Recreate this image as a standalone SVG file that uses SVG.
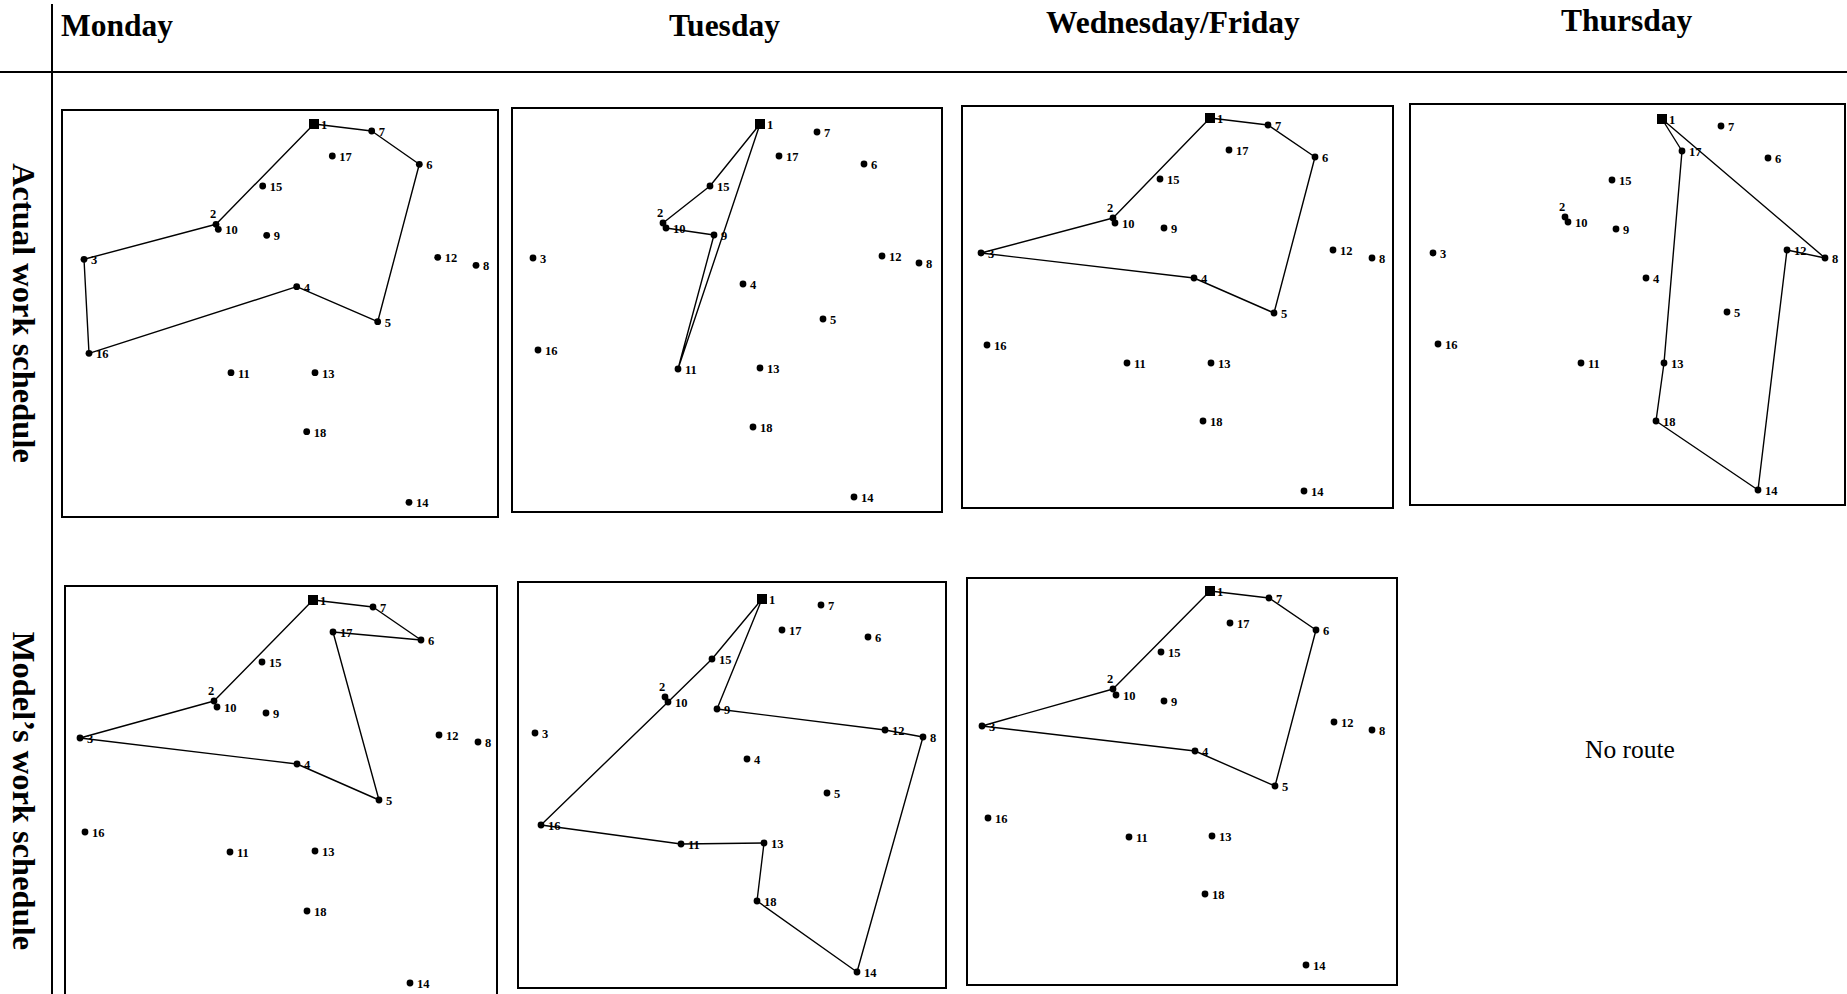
<svg xmlns="http://www.w3.org/2000/svg" width="1847" height="994" viewBox="0 0 1847 994">
<style>
.bg{fill:#fff}
.rule{stroke:#000;stroke-width:2;fill:none}
.box{fill:none;stroke:#000;stroke-width:2}
.route{fill:none;stroke:#000;stroke-width:1.4;stroke-linejoin:round}
.dot{fill:#000}
.lbl{font-family:"Liberation Serif","Times New Roman",serif;font-weight:bold;font-size:12.5px;fill:#000}
.l2{text-anchor:middle}
.hdr{font-family:"Liberation Serif","Times New Roman",serif;font-weight:bold;font-size:31.5px;fill:#000}
.side{font-family:"Liberation Serif","Times New Roman",serif;font-weight:bold;font-size:32.5px;fill:#000;text-anchor:middle}
.note{font-family:"Liberation Serif","Times New Roman",serif;font-size:25.5px;fill:#000}
</style>
<rect class="bg" x="0" y="0" width="1847" height="994"/>
<g id="frame">
<line class="rule" x1="0" y1="72" x2="1847" y2="72"/>
<line class="rule" x1="52" y1="4" x2="52" y2="994"/>
</g>
<g id="headers">
<text class="hdr" x="61" y="36">Monday</text>
<text class="hdr" x="669" y="36">Tuesday</text>
<text class="hdr" x="1046" y="33">Wednesday/Friday</text>
<text class="hdr" x="1561" y="31">Thursday</text>
<text class="side" transform="translate(13,313) rotate(90)">Actual work schedule</text>
<text class="side" transform="translate(13,791) rotate(90)">Model’s work schedule</text>
</g>

<!-- Panel: Monday actual -->
<g id="mon-actual">
<rect class="box" x="62" y="110" width="436" height="407"/>
<g id="mon-actual-connectors"><polyline class="route" points="314,124 371.7,131 419.3,164.3 377.7,321.7 296.7,286.7 89,353.3 84,259.3 216,224.3 314,124"/></g>
<g id="ma-n1"><rect class="dot" x="309" y="119" width="10" height="10"/><text class="lbl" x="321" y="129">1</text></g>
<g id="ma-n7"><circle class="dot" cx="371.7" cy="131" r="3.4"/><text class="lbl" x="378.7" y="136">7</text></g>
<g id="ma-n17"><circle class="dot" cx="332.3" cy="156" r="3.4"/><text class="lbl" x="339.3" y="161">17</text></g>
<g id="ma-n6"><circle class="dot" cx="419.3" cy="164.3" r="3.4"/><text class="lbl" x="426.3" y="169.3">6</text></g>
<g id="ma-n15"><circle class="dot" cx="262.7" cy="186" r="3.4"/><text class="lbl" x="269.7" y="191">15</text></g>
<g id="ma-n2"><circle class="dot" cx="216" cy="224.3" r="3.4"/><text class="lbl l2" x="213" y="218.3">2</text></g>
<g id="ma-n10"><circle class="dot" cx="218.3" cy="229.3" r="3.4"/><text class="lbl" x="225.3" y="234.3">10</text></g>
<g id="ma-n9"><circle class="dot" cx="266.7" cy="235.3" r="3.4"/><text class="lbl" x="273.7" y="240.3">9</text></g>
<g id="ma-n3"><circle class="dot" cx="84" cy="259.3" r="3.4"/><text class="lbl" x="91" y="264.3">3</text></g>
<g id="ma-n12"><circle class="dot" cx="437.7" cy="257.3" r="3.4"/><text class="lbl" x="444.7" y="262.3">12</text></g>
<g id="ma-n8"><circle class="dot" cx="476" cy="265.3" r="3.4"/><text class="lbl" x="483" y="270.3">8</text></g>
<g id="ma-n4"><circle class="dot" cx="296.7" cy="286.7" r="3.4"/><text class="lbl" x="303.7" y="291.7">4</text></g>
<g id="ma-n5"><circle class="dot" cx="377.7" cy="321.7" r="3.4"/><text class="lbl" x="384.7" y="326.7">5</text></g>
<g id="ma-n16"><circle class="dot" cx="89" cy="353.3" r="3.4"/><text class="lbl" x="96" y="358.3">16</text></g>
<g id="ma-n11"><circle class="dot" cx="231" cy="372.7" r="3.4"/><text class="lbl" x="238" y="377.7">11</text></g>
<g id="ma-n13"><circle class="dot" cx="315" cy="372.7" r="3.4"/><text class="lbl" x="322" y="377.7">13</text></g>
<g id="ma-n18"><circle class="dot" cx="306.7" cy="431.7" r="3.4"/><text class="lbl" x="313.7" y="436.7">18</text></g>
<g id="ma-n14"><circle class="dot" cx="409" cy="502.3" r="3.4"/><text class="lbl" x="416" y="507.3">14</text></g>
</g>

<!-- Panel: Tuesday actual -->
<g id="tue-actual">
<rect class="box" x="512" y="108" width="430" height="404"/>
<g id="tue-actual-connectors"><polyline class="route" points="760,124 710,186 663,223 666,228 714,235 678,369 760,124"/></g>
<g id="ta-n1"><rect class="dot" x="755" y="119" width="10" height="10"/><text class="lbl" x="767" y="129">1</text></g>
<g id="ta-n7"><circle class="dot" cx="817" cy="132" r="3.4"/><text class="lbl" x="824" y="137">7</text></g>
<g id="ta-n17"><circle class="dot" cx="779" cy="156" r="3.4"/><text class="lbl" x="786" y="161">17</text></g>
<g id="ta-n6"><circle class="dot" cx="864" cy="164" r="3.4"/><text class="lbl" x="871" y="169">6</text></g>
<g id="ta-n15"><circle class="dot" cx="710" cy="186" r="3.4"/><text class="lbl" x="717" y="191">15</text></g>
<g id="ta-n2"><circle class="dot" cx="663" cy="223" r="3.4"/><text class="lbl l2" x="660" y="217">2</text></g>
<g id="ta-n10"><circle class="dot" cx="666" cy="228" r="3.4"/><text class="lbl" x="673" y="233">10</text></g>
<g id="ta-n9"><circle class="dot" cx="714" cy="235" r="3.4"/><text class="lbl" x="721" y="240">9</text></g>
<g id="ta-n3"><circle class="dot" cx="533" cy="258" r="3.4"/><text class="lbl" x="540" y="263">3</text></g>
<g id="ta-n12"><circle class="dot" cx="882" cy="256" r="3.4"/><text class="lbl" x="889" y="261">12</text></g>
<g id="ta-n8"><circle class="dot" cx="919" cy="263" r="3.4"/><text class="lbl" x="926" y="268">8</text></g>
<g id="ta-n4"><circle class="dot" cx="743" cy="284" r="3.4"/><text class="lbl" x="750" y="289">4</text></g>
<g id="ta-n5"><circle class="dot" cx="823" cy="319" r="3.4"/><text class="lbl" x="830" y="324">5</text></g>
<g id="ta-n16"><circle class="dot" cx="538" cy="350" r="3.4"/><text class="lbl" x="545" y="355">16</text></g>
<g id="ta-n11"><circle class="dot" cx="678" cy="369" r="3.4"/><text class="lbl" x="685" y="374">11</text></g>
<g id="ta-n13"><circle class="dot" cx="760" cy="368" r="3.4"/><text class="lbl" x="767" y="373">13</text></g>
<g id="ta-n18"><circle class="dot" cx="753" cy="427" r="3.4"/><text class="lbl" x="760" y="432">18</text></g>
<g id="ta-n14"><circle class="dot" cx="854" cy="497" r="3.4"/><text class="lbl" x="861" y="502">14</text></g>
</g>

<!-- Panel: Wednesday/Friday actual -->
<g id="wed-actual">
<rect class="box" x="962" y="106" width="431" height="402"/>
<g id="wed-actual-connectors"><polyline class="route" points="1210,118 1268,125 1315,157 1274,313 1194,278 981,253 1113,218 1210,118"/></g>
<g id="wa-n1"><rect class="dot" x="1205" y="113" width="10" height="10"/><text class="lbl" x="1217" y="123">1</text></g>
<g id="wa-n7"><circle class="dot" cx="1268" cy="125" r="3.4"/><text class="lbl" x="1275" y="130">7</text></g>
<g id="wa-n17"><circle class="dot" cx="1229" cy="150" r="3.4"/><text class="lbl" x="1236" y="155">17</text></g>
<g id="wa-n6"><circle class="dot" cx="1315" cy="157" r="3.4"/><text class="lbl" x="1322" y="162">6</text></g>
<g id="wa-n15"><circle class="dot" cx="1160" cy="179" r="3.4"/><text class="lbl" x="1167" y="184">15</text></g>
<g id="wa-n2"><circle class="dot" cx="1113" cy="218" r="3.4"/><text class="lbl l2" x="1110" y="212">2</text></g>
<g id="wa-n10"><circle class="dot" cx="1115" cy="223" r="3.4"/><text class="lbl" x="1122" y="228">10</text></g>
<g id="wa-n9"><circle class="dot" cx="1164" cy="228" r="3.4"/><text class="lbl" x="1171" y="233">9</text></g>
<g id="wa-n3"><circle class="dot" cx="981" cy="253" r="3.4"/><text class="lbl" x="988" y="258">3</text></g>
<g id="wa-n12"><circle class="dot" cx="1333" cy="250" r="3.4"/><text class="lbl" x="1340" y="255">12</text></g>
<g id="wa-n8"><circle class="dot" cx="1372" cy="258" r="3.4"/><text class="lbl" x="1379" y="263">8</text></g>
<g id="wa-n4"><circle class="dot" cx="1194" cy="278" r="3.4"/><text class="lbl" x="1201" y="283">4</text></g>
<g id="wa-n5"><circle class="dot" cx="1274" cy="313" r="3.4"/><text class="lbl" x="1281" y="318">5</text></g>
<g id="wa-n16"><circle class="dot" cx="987" cy="345" r="3.4"/><text class="lbl" x="994" y="350">16</text></g>
<g id="wa-n11"><circle class="dot" cx="1127" cy="363" r="3.4"/><text class="lbl" x="1134" y="368">11</text></g>
<g id="wa-n13"><circle class="dot" cx="1211" cy="363" r="3.4"/><text class="lbl" x="1218" y="368">13</text></g>
<g id="wa-n18"><circle class="dot" cx="1203" cy="421" r="3.4"/><text class="lbl" x="1210" y="426">18</text></g>
<g id="wa-n14"><circle class="dot" cx="1304" cy="491" r="3.4"/><text class="lbl" x="1311" y="496">14</text></g>
</g>

<!-- Panel: Thursday actual -->
<g id="thu-actual">
<rect class="box" x="1410" y="104" width="435" height="401"/>
<g id="thu-actual-connectors"><polyline class="route" points="1662,119 1682,151 1664,363 1656,421 1758,490 1787,250 1825,258 1662,119"/></g>
<g id="ha-n1"><rect class="dot" x="1657" y="114" width="10" height="10"/><text class="lbl" x="1669" y="124">1</text></g>
<g id="ha-n7"><circle class="dot" cx="1721" cy="126" r="3.4"/><text class="lbl" x="1728" y="131">7</text></g>
<g id="ha-n17"><circle class="dot" cx="1682" cy="151" r="3.4"/><text class="lbl" x="1689" y="156">17</text></g>
<g id="ha-n6"><circle class="dot" cx="1768" cy="158" r="3.4"/><text class="lbl" x="1775" y="163">6</text></g>
<g id="ha-n15"><circle class="dot" cx="1612" cy="180" r="3.4"/><text class="lbl" x="1619" y="185">15</text></g>
<g id="ha-n2"><circle class="dot" cx="1565" cy="217" r="3.4"/><text class="lbl l2" x="1562" y="211">2</text></g>
<g id="ha-n10"><circle class="dot" cx="1568" cy="222" r="3.4"/><text class="lbl" x="1575" y="227">10</text></g>
<g id="ha-n9"><circle class="dot" cx="1616" cy="229" r="3.4"/><text class="lbl" x="1623" y="234">9</text></g>
<g id="ha-n3"><circle class="dot" cx="1433" cy="253" r="3.4"/><text class="lbl" x="1440" y="258">3</text></g>
<g id="ha-n12"><circle class="dot" cx="1787" cy="250" r="3.4"/><text class="lbl" x="1794" y="255">12</text></g>
<g id="ha-n8"><circle class="dot" cx="1825" cy="258" r="3.4"/><text class="lbl" x="1832" y="263">8</text></g>
<g id="ha-n4"><circle class="dot" cx="1646" cy="278" r="3.4"/><text class="lbl" x="1653" y="283">4</text></g>
<g id="ha-n5"><circle class="dot" cx="1727" cy="312" r="3.4"/><text class="lbl" x="1734" y="317">5</text></g>
<g id="ha-n16"><circle class="dot" cx="1438" cy="344" r="3.4"/><text class="lbl" x="1445" y="349">16</text></g>
<g id="ha-n11"><circle class="dot" cx="1581" cy="363" r="3.4"/><text class="lbl" x="1588" y="368">11</text></g>
<g id="ha-n13"><circle class="dot" cx="1664" cy="363" r="3.4"/><text class="lbl" x="1671" y="368">13</text></g>
<g id="ha-n18"><circle class="dot" cx="1656" cy="421" r="3.4"/><text class="lbl" x="1663" y="426">18</text></g>
<g id="ha-n14"><circle class="dot" cx="1758" cy="490" r="3.4"/><text class="lbl" x="1765" y="495">14</text></g>
</g>

<!-- Panel: Monday model -->
<g id="mon-model">
<rect class="box" x="65" y="586" width="432" height="412"/>
<g id="mon-model-connectors"><polyline class="route" points="313,600 373,607 421,640 333,632 379,800 297,764 80,738 214,701 313,600"/></g>
<g id="mm-n1"><rect class="dot" x="308" y="595" width="10" height="10"/><text class="lbl" x="320" y="605">1</text></g>
<g id="mm-n7"><circle class="dot" cx="373" cy="607" r="3.4"/><text class="lbl" x="380" y="612">7</text></g>
<g id="mm-n17"><circle class="dot" cx="333" cy="632" r="3.4"/><text class="lbl" x="340" y="637">17</text></g>
<g id="mm-n6"><circle class="dot" cx="421" cy="640" r="3.4"/><text class="lbl" x="428" y="645">6</text></g>
<g id="mm-n15"><circle class="dot" cx="262" cy="662" r="3.4"/><text class="lbl" x="269" y="667">15</text></g>
<g id="mm-n2"><circle class="dot" cx="214" cy="701" r="3.4"/><text class="lbl l2" x="211" y="695">2</text></g>
<g id="mm-n10"><circle class="dot" cx="217" cy="707" r="3.4"/><text class="lbl" x="224" y="712">10</text></g>
<g id="mm-n9"><circle class="dot" cx="266" cy="713" r="3.4"/><text class="lbl" x="273" y="718">9</text></g>
<g id="mm-n3"><circle class="dot" cx="80" cy="738" r="3.4"/><text class="lbl" x="87" y="743">3</text></g>
<g id="mm-n12"><circle class="dot" cx="439" cy="735" r="3.4"/><text class="lbl" x="446" y="740">12</text></g>
<g id="mm-n8"><circle class="dot" cx="478" cy="742" r="3.4"/><text class="lbl" x="485" y="747">8</text></g>
<g id="mm-n4"><circle class="dot" cx="297" cy="764" r="3.4"/><text class="lbl" x="304" y="769">4</text></g>
<g id="mm-n5"><circle class="dot" cx="379" cy="800" r="3.4"/><text class="lbl" x="386" y="805">5</text></g>
<g id="mm-n16"><circle class="dot" cx="85" cy="832" r="3.4"/><text class="lbl" x="92" y="837">16</text></g>
<g id="mm-n11"><circle class="dot" cx="230" cy="852" r="3.4"/><text class="lbl" x="237" y="857">11</text></g>
<g id="mm-n13"><circle class="dot" cx="315" cy="851" r="3.4"/><text class="lbl" x="322" y="856">13</text></g>
<g id="mm-n18"><circle class="dot" cx="307" cy="911" r="3.4"/><text class="lbl" x="314" y="916">18</text></g>
<g id="mm-n14"><circle class="dot" cx="410" cy="983" r="3.4"/><text class="lbl" x="417" y="988">14</text></g>
</g>

<!-- Panel: Tuesday model -->
<g id="tue-model">
<rect class="box" x="518" y="582" width="428" height="406"/>
<g id="tue-model-connectors"><polyline class="route" points="762,599 712,659 668,702 541,825 681,844 764,843 757,901 857,972 923,737 885,730 717,709 762,599"/></g>
<g id="tm-n1"><rect class="dot" x="757" y="594" width="10" height="10"/><text class="lbl" x="769" y="604">1</text></g>
<g id="tm-n7"><circle class="dot" cx="821" cy="605" r="3.4"/><text class="lbl" x="828" y="610">7</text></g>
<g id="tm-n17"><circle class="dot" cx="782" cy="630" r="3.4"/><text class="lbl" x="789" y="635">17</text></g>
<g id="tm-n6"><circle class="dot" cx="868" cy="637" r="3.4"/><text class="lbl" x="875" y="642">6</text></g>
<g id="tm-n15"><circle class="dot" cx="712" cy="659" r="3.4"/><text class="lbl" x="719" y="664">15</text></g>
<g id="tm-n2"><circle class="dot" cx="665" cy="697" r="3.4"/><text class="lbl l2" x="662" y="691">2</text></g>
<g id="tm-n10"><circle class="dot" cx="668" cy="702" r="3.4"/><text class="lbl" x="675" y="707">10</text></g>
<g id="tm-n9"><circle class="dot" cx="717" cy="709" r="3.4"/><text class="lbl" x="724" y="714">9</text></g>
<g id="tm-n3"><circle class="dot" cx="535" cy="733" r="3.4"/><text class="lbl" x="542" y="738">3</text></g>
<g id="tm-n12"><circle class="dot" cx="885" cy="730" r="3.4"/><text class="lbl" x="892" y="735">12</text></g>
<g id="tm-n8"><circle class="dot" cx="923" cy="737" r="3.4"/><text class="lbl" x="930" y="742">8</text></g>
<g id="tm-n4"><circle class="dot" cx="747" cy="759" r="3.4"/><text class="lbl" x="754" y="764">4</text></g>
<g id="tm-n5"><circle class="dot" cx="827" cy="793" r="3.4"/><text class="lbl" x="834" y="798">5</text></g>
<g id="tm-n16"><circle class="dot" cx="541" cy="825" r="3.4"/><text class="lbl" x="548" y="830">16</text></g>
<g id="tm-n11"><circle class="dot" cx="681" cy="844" r="3.4"/><text class="lbl" x="688" y="849">11</text></g>
<g id="tm-n13"><circle class="dot" cx="764" cy="843" r="3.4"/><text class="lbl" x="771" y="848">13</text></g>
<g id="tm-n18"><circle class="dot" cx="757" cy="901" r="3.4"/><text class="lbl" x="764" y="906">18</text></g>
<g id="tm-n14"><circle class="dot" cx="857" cy="972" r="3.4"/><text class="lbl" x="864" y="977">14</text></g>
</g>

<!-- Panel: Wednesday/Friday model -->
<g id="wed-model">
<rect class="box" x="967" y="578" width="430" height="407"/>
<g id="wed-model-connectors"><polyline class="route" points="1210,591 1269,598 1316,630 1275,786 1195,751 982,726 1113,689 1210,591"/></g>
<g id="wm-n1"><rect class="dot" x="1205" y="586" width="10" height="10"/><text class="lbl" x="1217" y="596">1</text></g>
<g id="wm-n7"><circle class="dot" cx="1269" cy="598" r="3.4"/><text class="lbl" x="1276" y="603">7</text></g>
<g id="wm-n17"><circle class="dot" cx="1230" cy="623" r="3.4"/><text class="lbl" x="1237" y="628">17</text></g>
<g id="wm-n6"><circle class="dot" cx="1316" cy="630" r="3.4"/><text class="lbl" x="1323" y="635">6</text></g>
<g id="wm-n15"><circle class="dot" cx="1161" cy="652" r="3.4"/><text class="lbl" x="1168" y="657">15</text></g>
<g id="wm-n2"><circle class="dot" cx="1113" cy="689" r="3.4"/><text class="lbl l2" x="1110" y="683">2</text></g>
<g id="wm-n10"><circle class="dot" cx="1116" cy="695" r="3.4"/><text class="lbl" x="1123" y="700">10</text></g>
<g id="wm-n9"><circle class="dot" cx="1164" cy="701" r="3.4"/><text class="lbl" x="1171" y="706">9</text></g>
<g id="wm-n3"><circle class="dot" cx="982" cy="726" r="3.4"/><text class="lbl" x="989" y="731">3</text></g>
<g id="wm-n12"><circle class="dot" cx="1334" cy="722" r="3.4"/><text class="lbl" x="1341" y="727">12</text></g>
<g id="wm-n8"><circle class="dot" cx="1372" cy="730" r="3.4"/><text class="lbl" x="1379" y="735">8</text></g>
<g id="wm-n4"><circle class="dot" cx="1195" cy="751" r="3.4"/><text class="lbl" x="1202" y="756">4</text></g>
<g id="wm-n5"><circle class="dot" cx="1275" cy="786" r="3.4"/><text class="lbl" x="1282" y="791">5</text></g>
<g id="wm-n16"><circle class="dot" cx="988" cy="818" r="3.4"/><text class="lbl" x="995" y="823">16</text></g>
<g id="wm-n11"><circle class="dot" cx="1129" cy="837" r="3.4"/><text class="lbl" x="1136" y="842">11</text></g>
<g id="wm-n13"><circle class="dot" cx="1212" cy="836" r="3.4"/><text class="lbl" x="1219" y="841">13</text></g>
<g id="wm-n18"><circle class="dot" cx="1205" cy="894" r="3.4"/><text class="lbl" x="1212" y="899">18</text></g>
<g id="wm-n14"><circle class="dot" cx="1306" cy="965" r="3.4"/><text class="lbl" x="1313" y="970">14</text></g>
</g>

<!-- Thursday model -->
<g id="thu-model">
<text class="note" x="1585" y="758">No route</text>
</g>
</svg>
